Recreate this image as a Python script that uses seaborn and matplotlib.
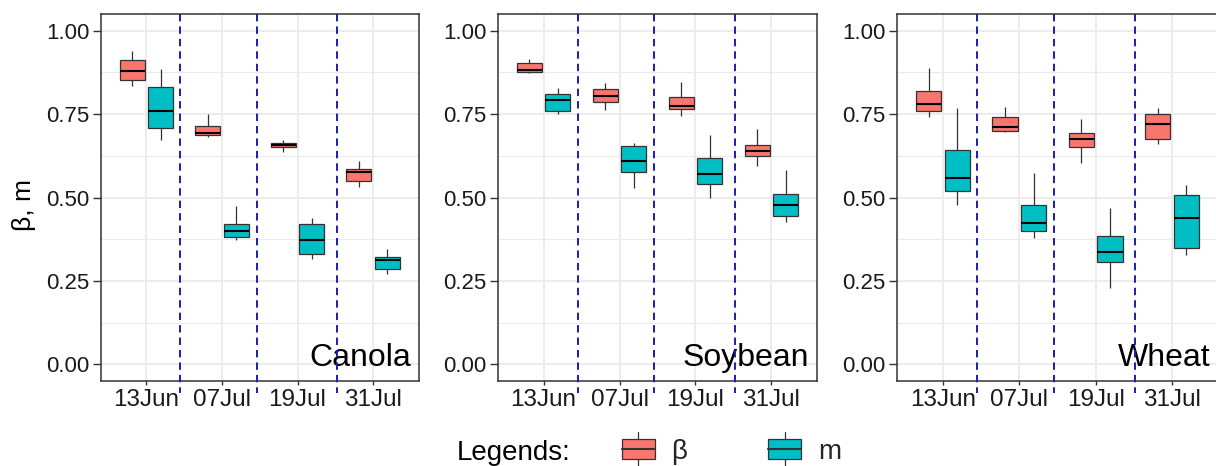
import numpy as np
import pandas as pd
import matplotlib
matplotlib.use("Agg")
import matplotlib.pyplot as plt
from matplotlib.patches import Rectangle, Patch
from matplotlib.lines import Line2D
from matplotlib.legend_handler import HandlerBase
from matplotlib.transforms import blended_transform_factory
import seaborn as sns

# ---------------------------------------------------------------- data
crops = ["Canola", "Soybean", "Wheat"]
dates = ["13Jun", "07Jul", "19Jul", "31Jul"]
params = ["β", "m"]

# five-number summaries per date: lower whisker, Q1, median, Q3, upper whisker
canola_beta = [[0.833, 0.851, 0.879, 0.912, 0.938],
               [0.680, 0.688, 0.694, 0.714, 0.749],
               [0.635, 0.650, 0.658, 0.664, 0.671],
               [0.530, 0.549, 0.575, 0.585, 0.610]]
canola_m = [[0.673, 0.709, 0.759, 0.830, 0.886],
            [0.373, 0.382, 0.401, 0.422, 0.476],
            [0.316, 0.331, 0.374, 0.422, 0.440],
            [0.270, 0.287, 0.313, 0.321, 0.347]]
soybean_beta = [[0.873, 0.877, 0.882, 0.902, 0.916],
                [0.762, 0.787, 0.805, 0.824, 0.843],
                [0.745, 0.766, 0.775, 0.802, 0.846],
                [0.594, 0.625, 0.640, 0.657, 0.704]]
soybean_m = [[0.751, 0.759, 0.793, 0.809, 0.827],
             [0.527, 0.577, 0.608, 0.653, 0.663],
             [0.500, 0.539, 0.570, 0.618, 0.686],
             [0.427, 0.446, 0.479, 0.510, 0.582]]
wheat_beta = [[0.740, 0.759, 0.779, 0.820, 0.889],
              [0.697, 0.699, 0.712, 0.742, 0.771],
              [0.602, 0.650, 0.675, 0.693, 0.735],
              [0.660, 0.674, 0.719, 0.751, 0.767]]
wheat_m = [[0.478, 0.519, 0.559, 0.642, 0.767],
           [0.378, 0.400, 0.424, 0.479, 0.572],
           [0.230, 0.307, 0.338, 0.386, 0.469],
           [0.328, 0.350, 0.439, 0.506, 0.537]]

y_ticks = [0.0, 0.25, 0.5, 0.75, 1.0]
y_tick_labels = ["0.00", "0.25", "0.50", "0.75", "1.00"]
period_breaks = [0.45, 1.46, 2.52]

# ---------------------------------------------------------------- tidy frame
rows = []
for crop, beta, m in zip(crops,
                         [canola_beta, soybean_beta, wheat_beta],
                         [canola_m, soybean_m, wheat_m]):
    for d, vb, vm in zip(dates, beta, m):
        rows += [(crop, d, "β", v) for v in vb]
        rows += [(crop, d, "m", v) for v in vm]
df = pd.DataFrame(rows, columns=["crop", "date", "param", "value"])

# ---------------------------------------------------------------- style
sns.set_style("white")
plt.rcParams["font.family"] = ["Liberation Sans", "DejaVu Sans"]

palette = {"β": "#F8766D", "m": "#00BFC4"}
edge = "#333333"
grid_col = "#EBEBEB"
W, H = 1216, 466
fig = plt.figure(figsize=(W / 100, H / 100), dpi=100)

panels_px = [(101, 418.5), (498, 817), (897, 1218)]
top_px, bottom_px = 14, 381

for crop, (l, r) in zip(crops, panels_px):
    ax = fig.add_axes([l / W, 1 - bottom_px / H, (r - l) / W, (bottom_px - top_px) / H])
    sub = df[df["crop"] == crop]
    sns.boxplot(data=sub, x="date", y="value", hue="param",
                order=dates, hue_order=params, palette=palette, saturation=1,
                width=0.75, gap=0.12, whis=np.inf, linecolor=edge,
                linewidth=0.9, showcaps=False, legend=False,
                medianprops={"color": "black", "linewidth": 1.5}, ax=ax)
    ax.set_xlim(-0.6, 3.6)
    ax.set_ylim(-0.05, 1.05)
    ax.set_xlabel("")
    ax.set_ylabel("")
    ax.set_yticks(y_ticks)
    ax.set_yticklabels(y_tick_labels)
    ax.set_yticks(np.arange(0.125, 1.0, 0.25), minor=True)

    ax.set_axisbelow(True)
    ax.grid(which="major", color=grid_col, linewidth=1.3)
    ax.grid(which="minor", axis="y", color=grid_col, linewidth=0.8)

    for s in ax.spines.values():
        s.set_color(edge)
        s.set_linewidth(1.1)
        s.set_visible(True)

    ax.tick_params(axis="y", which="major", direction="out", length=5.5,
                   width=1, color=edge, labelsize=16, labelcolor="#1A1A1A", pad=3,
                   left=True)
    ax.tick_params(axis="x", which="major", direction="out", length=3,
                   width=1, color=edge, labelsize=17.5, labelcolor="#1A1A1A", pad=3,
                   bottom=True)
    ax.tick_params(which="minor", length=0)

    # period separators, running slightly past the panel floor
    trans = blended_transform_factory(ax.transData, ax.transAxes)
    for xb in period_breaks:
        ax.plot([xb, xb], [1.0, -0.033], transform=trans, color="#1C1CB4",
                linewidth=1.4, dashes=(3.8, 2.6), clip_on=False, zorder=6)

    ax.text(1 - 7.5 / (r - l), 15 / (bottom_px - top_px), crop,
            transform=ax.transAxes, ha="right", va="baseline",
            fontsize=23, color="black", zorder=5)

fig.text(24 / W, 1 - 205 / H, "β, m", rotation=90, ha="center", va="center",
         fontsize=19, color="black")


# ---------------------------------------------------------------- legend
class BoxKey(HandlerBase):
    def create_artists(self, legend, orig_handle, xdescent, ydescent,
                       width, height, fontsize, trans):
        x0, y0 = -xdescent, -ydescent
        xc = x0 + width / 2
        ext = 0.38 * height
        whisk_top = Line2D([xc, xc], [y0 + height, y0 + height + ext],
                           color=edge, lw=0.9, transform=trans)
        whisk_bot = Line2D([xc, xc], [y0, y0 - ext],
                           color=edge, lw=0.9, transform=trans)
        box = Rectangle((x0, y0), width, height,
                        facecolor=orig_handle.get_facecolor(),
                        edgecolor=edge, lw=0.9, transform=trans)
        med = Line2D([x0, x0 + width], [y0 + height / 2] * 2,
                     color=edge, lw=1.5, transform=trans)
        return [whisk_top, whisk_bot, box, med]


handles = [Patch(facecolor=palette[p]) for p in params]
fig.legend(handles, params, handler_map={Patch: BoxKey()},
           loc="center left", bbox_to_anchor=(621.5 / W, 1 - 452 / H),
           frameon=False, ncol=2, fontsize=20, handlelength=1.2,
           handleheight=0.72, handletextpad=0.6, columnspacing=2.9,
           borderpad=0, borderaxespad=0)
fig.text(457 / W, 1 - 453 / H, "Legends:", ha="left", va="center",
         fontsize=20, color="black")

fig.savefig("out.png", dpi=100)
